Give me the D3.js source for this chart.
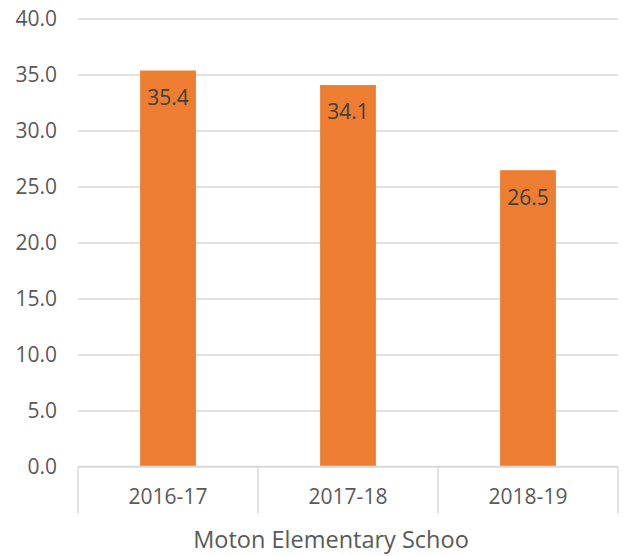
<!DOCTYPE html>
<html>
<head>
<meta charset="utf-8">
<script src="https://cdn.jsdelivr.net/npm/d3@7"></script>
<style>
  body { margin: 0; background: #fff; }
  text { font-family: "Open Sans", sans-serif; }
</style>
</head>
<body>
<svg id="chart" width="626" height="556"></svg>
<script>
const categories = ["2016-17", "2017-18", "2018-19"];
const values = [35.4, 34.1, 26.5];
const yTicks = [0, 5, 10, 15, 20, 25, 30, 35, 40];
const axisTitle = "Moton Elementary Schoo";

const svg = d3.select("#chart");
const plotLeft = 78, plotRight = 618, plotTop = 19, plotBottom = 467;

const x = d3.scaleBand()
  .domain(categories)
  .range([plotLeft, plotRight])
  .padding(0);

const y = d3.scaleLinear()
  .domain([0, 40])
  .range([plotBottom, plotTop]);

const barW = x.bandwidth() * 0.31;

// Gridlines
svg.append("g")
  .selectAll("line")
  .data(yTicks)
  .join("line")
  .attr("x1", plotLeft)
  .attr("x2", plotRight)
  .attr("y1", d => y(d))
  .attr("y2", d => y(d))
  .attr("stroke", "#d9d9d9")
  .attr("stroke-width", 1.5);

// Y labels
svg.append("g")
  .selectAll("text")
  .data(yTicks)
  .join("text")
  .attr("x", 57)
  .attr("y", d => y(d))
  .attr("dy", "0.35em")
  .attr("text-anchor", "end")
  .attr("fill", "#595959")
  .style("font-size", "21px")
  .text(d => d.toFixed(1));

// Bars
svg.append("g")
  .selectAll("rect")
  .data(values)
  .join("rect")
  .attr("x", (d, i) => x(categories[i]) + (x.bandwidth() - barW) / 2)
  .attr("width", barW)
  .attr("y", d => y(d))
  .attr("height", d => y(0) - y(d))
  .attr("fill", "#ed7d31");

// Value labels
svg.append("g")
  .selectAll("text")
  .data(values)
  .join("text")
  .attr("x", (d, i) => x(categories[i]) + x.bandwidth() / 2)
  .attr("y", d => y(d) + 27)
  .attr("dy", "0.35em")
  .attr("text-anchor", "middle")
  .attr("fill", "#404040")
  .style("font-size", "21px")
  .text(d => d.toFixed(1));

// X axis line and category dividers
svg.append("line")
  .attr("x1", plotLeft).attr("x2", plotRight)
  .attr("y1", plotBottom - 0.5).attr("y2", plotBottom - 0.5)
  .attr("stroke", "#d9d9d9")
  .attr("stroke-width", 1.5);

const edges = categories.map(c => x(c)).concat([plotRight]);
svg.append("g")
  .selectAll("line")
  .data(edges)
  .join("line")
  .attr("x1", d => d).attr("x2", d => d)
  .attr("y1", plotBottom - 0.5).attr("y2", 513)
  .attr("stroke", "#d9d9d9")
  .attr("stroke-width", 1.5);

svg.append("g")
  .selectAll("text")
  .data(categories)
  .join("text")
  .attr("x", d => x(d) + x.bandwidth() / 2)
  .attr("y", 497)
  .attr("dy", "0.35em")
  .attr("text-anchor", "middle")
  .attr("fill", "#595959")
  .style("font-size", "21px")
  .text(d => d);

svg.append("text")
  .attr("x", 331)
  .attr("y", 540)
  .attr("dy", "0.35em")
  .attr("text-anchor", "middle")
  .attr("fill", "#595959")
  .style("font-size", "23.5px")
  .text(axisTitle);
</script>
</body>
</html>
